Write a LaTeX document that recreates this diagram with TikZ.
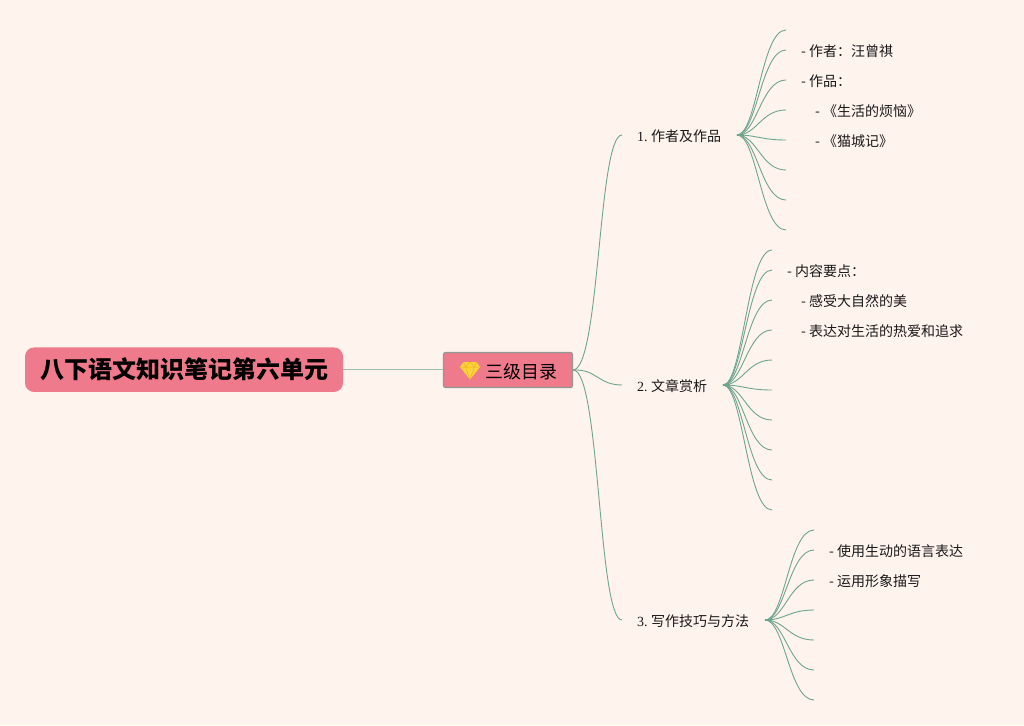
\documentclass[tikz,border=0pt]{standalone}
\usepackage{fontspec}
\setmainfont{Liberation Serif}
\newfontfamily\cjk{Noto Sans CJK SC}
\usetikzlibrary{calc}
\definecolor{bgc}{HTML}{FFF3EE}
\definecolor{rosec}{HTML}{EF7A8B}
\definecolor{linkc}{HTML}{6FA58E}
\definecolor{rootlink}{HTML}{9CC2AE}
\definecolor{edgec}{HTML}{8E9A96}
\definecolor{gemc}{HTML}{FFD43B}
\definecolor{gemd}{HTML}{E8B020}
\tikzset{
  rootbox/.style={fill=rosec,draw=none,rounded corners=9pt,minimum width=318pt,minimum height=44.5pt,inner sep=0pt,font=\cjk\bfseries\fontsize{24}{26}\selectfont,text=black},
  subbox/.style={fill=rosec,draw=edgec,line width=1.2pt,rounded corners=2pt,minimum width=129pt,minimum height=35pt,inner sep=0pt},
  branchtext/.style={anchor=west,inner sep=0pt,font=\fontsize{14}{16}\selectfont,text=black!90},
  leaftext/.style={anchor=west,inner sep=0pt,font=\fontsize{14}{16}\selectfont,text=black!90},
  link/.style={draw=linkc,line width=0.9pt},
  stub/.style={draw=linkc,line width=1.8pt},
}
\newcommand{\fan}[3]{% hub name, free-end x, list of y
  \foreach \yy in {#3}{
    \coordinate (end\yy) at (#2,\yy);
    \draw[link] (#1) .. controls ($(#1)+(20,0)$) and ($(#2-25,\yy)$) .. (end\yy);
  }
  \draw[stub] (#1) -- +(7,0);
}
\begin{document}
\begin{tikzpicture}[x=1pt,y=-1pt]
\path[use as bounding box,fill=bgc] (0,0) rectangle (1024,725);
\node[rootbox] (root) at (184,369.7) {八下语文知识笔记第六单元};
\node[subbox] (sub) at (508,370) {};
\node[anchor=west,inner sep=0pt,font=\cjk\fontsize{17.9}{20}\selectfont] (subt) at (485.5,371.5) {三级目录};
% gem
\fill[gemc] (463.5,362) -- (476.5,362) -- (480,367) -- (470,379.5) -- (460,367) -- cycle;
\draw[gemd,line width=0.5pt] (460,367) -- (480,367) (465.5,367) -- (470,379.5) -- (474.5,367) (463.5,362) -- (465.5,367) -- (470,362) -- (474.5,367) -- (476.5,362);
\draw[rootlink,line width=1pt] (root.east) -- (root.east -| sub.west);
% branches
\coordinate (b1) at (622,135);
\coordinate (b2) at (622,385);
\coordinate (b3) at (622,620);
\draw[link] (sub.east) .. controls (600,369) and (598,135) .. (b1);
\draw[link] (sub.east) .. controls (597,369) and (598,385) .. (b2);
\draw[link] (sub.east) .. controls (600,369) and (598,620) .. (b3);
\node[branchtext] (t1) at (637,136.5) {1.\hspace{3.4pt}{\cjk 作者及作品}};
\node[branchtext] (t2) at (637,386.5) {2.\hspace{3.4pt}{\cjk 文章赏析}};
\node[branchtext] (t3) at (637,621.5) {3.\hspace{3.4pt}{\cjk 写作技巧与方法}};
\coordinate (h1) at (737,135);
\coordinate (h2) at (723,385);
\coordinate (h3) at (765,620);
\fan{h1}{786}{30,50,80,110,140,170,200,230}
\fan{h2}{772}{250,270,300,330,360,390,420,450,480,510}
\fan{h3}{814}{530,550,580,610,640,670,700}
% leaves
\node[leaftext] (a1) at (801,51.5) {\cjk - 作者：汪曾祺};
\node[leaftext] (a2) at (801,81.5) {\cjk - 作品：};
\node[leaftext] (a3) at (815,111.5) {\cjk - 《生活的烦恼》};
\node[leaftext] (a4) at (815,141.5) {\cjk - 《猫城记》};
\node[leaftext] (c1) at (787,271.5) {\cjk - 内容要点：};
\node[leaftext] (c2) at (801,301.5) {\cjk - 感受大自然的美};
\node[leaftext] (c3) at (801,331.5) {\cjk - 表达对生活的热爱和追求};
\node[leaftext] (d1) at (829,551.5) {\cjk - 使用生动的语言表达};
\node[leaftext] (d2) at (829,581.5) {\cjk - 运用形象描写};
\end{tikzpicture}
\end{document}
